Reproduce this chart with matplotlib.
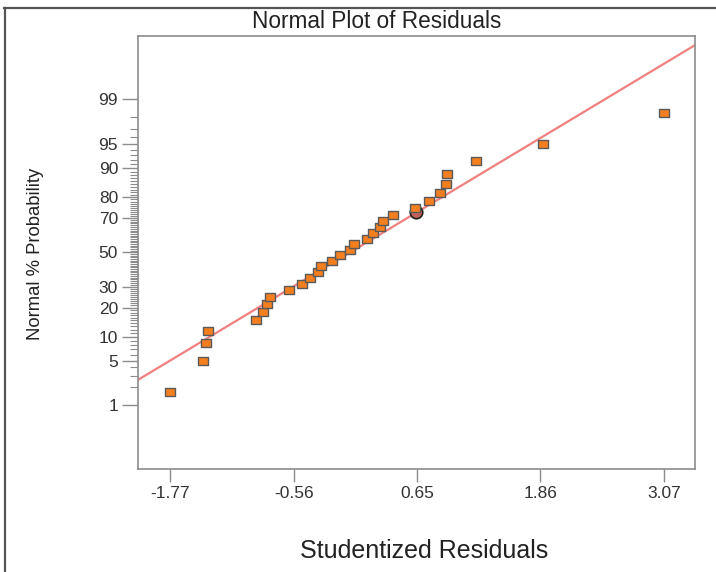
from statistics import NormalDist

import matplotlib
matplotlib.use("Agg")
import matplotlib.pyplot as plt
from matplotlib.lines import Line2D
from matplotlib.ticker import FixedLocator, NullFormatter

# studentized residuals (sorted) and their normal % probability
resid = [-1.77, -1.45, -1.42, -1.40, -0.93, -0.86, -0.82, -0.79, -0.61, -0.48,
         -0.40, -0.32, -0.29, -0.18, -0.11, -0.01, 0.03, 0.16, 0.22, 0.29,
         0.32, 0.41, 0.63, 0.77, 0.87, 0.93, 0.94, 1.23, 1.88, 3.07]
prob_pct = [1.7, 5.0, 8.3, 11.7, 15.0, 18.3, 21.7, 25.0, 28.3, 31.7,
            35.0, 38.3, 41.7, 45.0, 48.3, 51.7, 55.0, 58.3, 61.7, 65.0,
            68.3, 71.7, 75.0, 78.3, 81.7, 85.0, 88.3, 91.7, 95.0, 98.3]

# highlighted run
sel_resid = [0.64]
sel_pct = [72.8]

# reference line end points
fit_resid = [-2.09, 3.38]
fit_pct = [2.6, 99.92]

x_ticks = [-1.77, -0.56, 0.65, 1.86, 3.07]
y_major = [1, 5, 10, 20, 30, 50, 70, 80, 90, 95, 99]
y_minor = [p for p in range(1, 100) if p not in y_major]

_nd = NormalDist()


def probit(pcts):
    return [_nd.inv_cdf(p / 100.0) for p in pcts]


plt.rcParams["font.family"] = ["Liberation Sans", "DejaVu Sans"]

fig = plt.figure(figsize=(7.16, 5.72), dpi=100)
ax = fig.add_axes([0.1930, 0.1806, 0.7770, 0.7565])

# outer frame (left and top edges only)
fig.add_artist(Line2D([0.007, 0.007], [0.0, 0.986], transform=fig.transFigure,
                      color="#555555", lw=1.6))
fig.add_artist(Line2D([0.006, 1.0], [0.986, 0.986], transform=fig.transFigure,
                      color="#555555", lw=1.6))

ax.plot(fit_resid, probit(fit_pct), color="#F08080", lw=1.6, zorder=2)
ax.plot(sel_resid, probit(sel_pct), ls="none", marker="o", ms=9,
        mfc="#C0605A", mec="#202020", mew=1.2, zorder=3)

rect = [(-1, -0.8), (1, -0.8), (1, 0.8), (-1, 0.8), (-1, -0.8)]
ax.plot(resid, probit(prob_pct), ls="none", marker=rect, ms=7.2,
        mfc="#F47F1F", mec="#5A5A5A", mew=1.0, zorder=4)

ax.set_xlim(-2.084, 3.370)
ax.set_ylim(-3.29, 3.29)

ax.set_xticks(x_ticks)
ax.set_xticklabels([f"{t:.2f}" for t in x_ticks])
ax.yaxis.set_major_locator(FixedLocator(probit(y_major)))
ax.set_yticklabels([str(p) for p in y_major])
ax.yaxis.set_minor_locator(FixedLocator(probit(y_minor)))
ax.yaxis.set_minor_formatter(NullFormatter())

for s in ax.spines.values():
    s.set_color("#8C8C8C")
    s.set_linewidth(1.2)

ax.tick_params(axis="x", direction="out", length=9.5, width=1.0,
               color="#8C8C8C", labelsize=12.5, labelcolor="#333333", pad=3)
ax.tick_params(axis="y", which="major", direction="out", length=11.5,
               width=1.0, color="#8C8C8C", labelsize=12.5,
               labelcolor="#333333", pad=3)
ax.tick_params(axis="y", which="minor", direction="out", length=5.8,
               width=0.8, color="#8C8C8C")

fig.text(0.5265, 0.963, "Normal Plot of Residuals", ha="center", va="center",
         fontsize=16.3, color="#222222")
fig.text(0.592, 0.036, "Studentized Residuals", ha="center", va="center",
         fontsize=18, color="#222222")
fig.text(0.050, 0.557, "Normal % Probability", ha="center", va="center",
         rotation=90, fontsize=13.3, color="#222222")

fig.savefig("out.png", dpi=100)
